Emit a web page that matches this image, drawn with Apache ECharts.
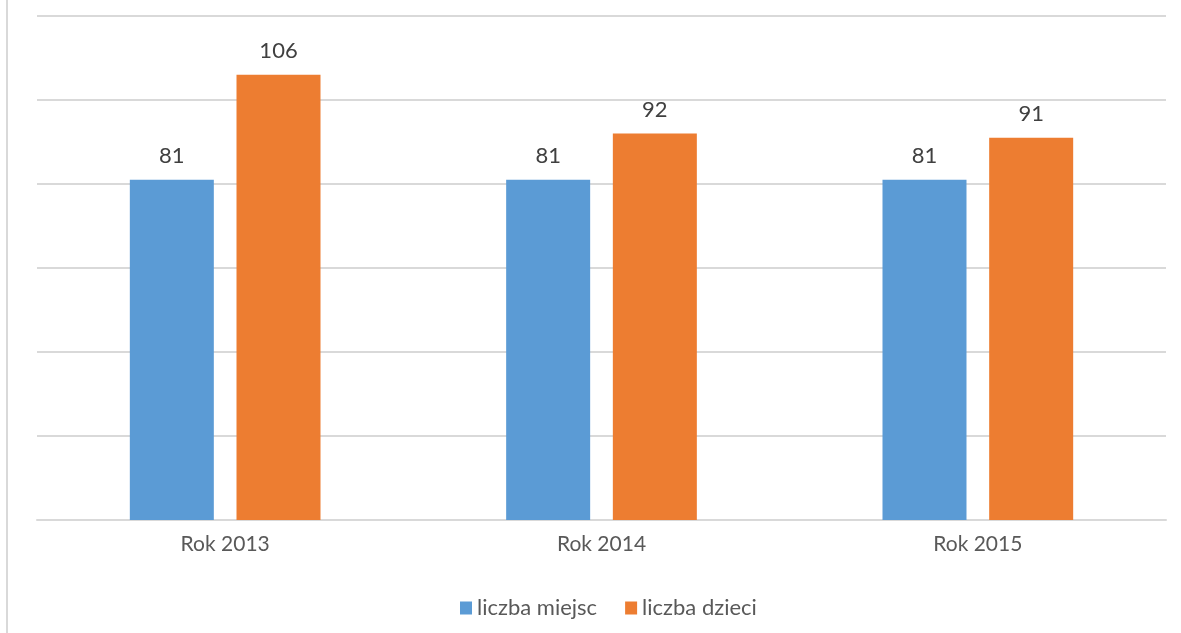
<!DOCTYPE html>
<html>
<head>
<meta charset="utf-8">
<script src="https://cdn.jsdelivr.net/npm/echarts@6/dist/echarts.min.js"></script>
<style>
html,body{margin:0;padding:0;background:#fff;}
#chart{width:1181px;height:633px;}
</style>
</head>
<body>
<div id="chart"></div>
<script>
const categories = ['Rok 2013', 'Rok 2014', 'Rok 2015'];
const seriesNames = ['liczba miejsc', 'liczba dzieci'];
const miejsc = [81, 81, 81];
const dzieci = [106, 92, 91];

const FONT = 'Lato, "Open Sans", sans-serif';
const chart = echarts.init(document.getElementById('chart'));
chart.setOption({
  animation: false,
  backgroundColor: '#ffffff',
  textStyle: { fontFamily: FONT },
  grid: { left: 37, right: 15, top: 16, bottom: 113 },
  legend: {
    top: 592,
    left: 455,
    icon: 'rect',
    itemWidth: 12,
    itemHeight: 13,
    itemGap: 28,
    textStyle: { color: '#595959', fontSize: 22, fontFamily: FONT },
    data: seriesNames
  },
  xAxis: {
    type: 'category',
    data: categories,
    axisLine: { lineStyle: { color: '#d9d9d9', width: 2 } },
    axisTick: { show: false },
    axisLabel: { color: '#595959', fontSize: 21, margin: 14, fontFamily: FONT }
  },
  yAxis: {
    type: 'value',
    min: 0,
    max: 120,
    interval: 20,
    axisLabel: { show: false },
    axisLine: { show: false },
    axisTick: { show: false },
    splitLine: { lineStyle: { color: '#d9d9d9', width: 2 } }
  },
  graphic: [{
    type: 'line',
    shape: { x1: 7, y1: 0, x2: 7, y2: 633 },
    style: { stroke: '#d9d9d9', lineWidth: 2 }
  }],
  series: [
    {
      name: seriesNames[0],
      type: 'bar',
      data: miejsc,
      barWidth: 84,
      barGap: '27%',
      itemStyle: { color: '#5B9BD5' },
      label: { show: true, position: 'top', distance: 13, color: '#404040', fontSize: 22, fontFamily: FONT }
    },
    {
      name: seriesNames[1],
      type: 'bar',
      data: dzieci,
      barWidth: 84,
      barGap: '27%',
      itemStyle: { color: '#ED7D31' },
      label: { show: true, position: 'top', distance: 13, color: '#404040', fontSize: 22, fontFamily: FONT }
    }
  ]
});
</script>
</body>
</html>
